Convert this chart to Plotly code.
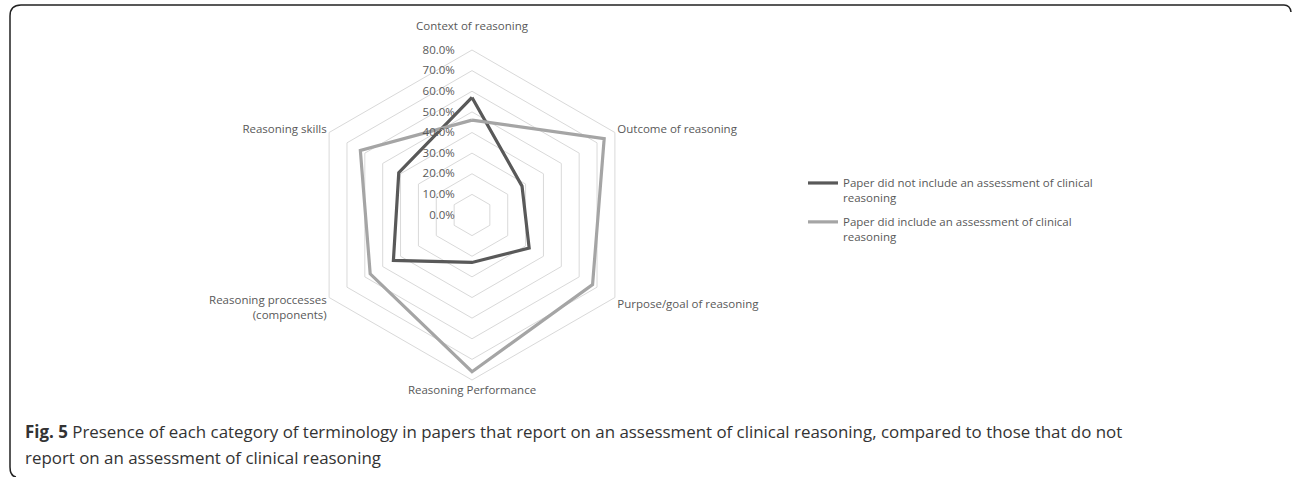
import plotly.graph_objects as go

categories = ["Context of reasoning", "Outcome of reasoning", "Purpose/goal of reasoning",
              "Reasoning Performance", "Reasoning proccesses<br>(components)", "Reasoning skills"]
not_included = [57.0, 28.0, 32.0, 23.0, 44.0, 41.0]
included = [46.0, 74.0, 67.5, 76.0, 57.0, 62.5]
series_names = ["Paper did not include an assessment of clinical<br>reasoning",
                "Paper did include an assessment of clinical<br>reasoning"]
tick_vals = [0, 10, 20, 30, 40, 50, 60, 70, 80]
tick_text = ["0.0%", "10.0%", "20.0%", "30.0%", "40.0%", "50.0%", "60.0%", "70.0%", "80.0%"]

W, H = 1292, 477
FONT = "Open Sans"
GRAY = "#595959"
FS = 11.5
PAD = "\u00a0" * 5  # keeps radial tick labels clear of the axis

# the top category label sits a line higher, clear of the 80.0% tick label
angular_text = list(categories)
angular_text[0] = categories[0] + "<br>\u00a0"

fig = go.Figure()
for i, (vals, name, color) in enumerate([(not_included, series_names[0], "#595959"),
                                         (included, series_names[1], "#a5a5a5")]):
    fig.add_trace(go.Scatterpolar(
        r=vals + [vals[0]], theta=categories + [categories[0]],
        mode="lines", name=name, legendgroup=f"g{i}",
        line=dict(color=color, width=3.2),
    ))

cx, cy, R = 472, 215, 165
fig.update_layout(
    width=W, height=H,
    margin=dict(l=0, r=0, t=0, b=0),
    paper_bgcolor="white",
    font=dict(family=FONT, size=FS, color=GRAY),
    polar=dict(
        domain=dict(x=[(cx - R) / W, (cx + R) / W], y=[1 - (cy + R) / H, 1 - (cy - R) / H]),
        gridshape="linear",
        bgcolor="white",
        angularaxis=dict(rotation=90, direction="clockwise", showgrid=False,
                         linecolor="#d9d9d9", linewidth=1, ticks="",
                         tickmode="array", tickvals=categories, ticktext=angular_text,
                         tickfont=dict(family=FONT, size=FS, color=GRAY)),
        radialaxis=dict(range=[0, 80], tickvals=tick_vals,
                        ticktext=[t + PAD for t in tick_text],
                        angle=90, tickangle=90, showline=False, ticks="",
                        gridcolor="#d9d9d9", gridwidth=1,
                        side="counterclockwise",
                        tickfont=dict(family=FONT, size=FS, color=GRAY)),
    ),
    legend=dict(x=803 / W, y=1 - 169 / H, xanchor="left", yanchor="top",
                valign="top", font=dict(family=FONT, size=FS, color=GRAY),
                bgcolor="rgba(0,0,0,0)", tracegroupgap=6),
)

# caption (two lines)
cap_font = dict(family=FONT, size=16.9, color="#333333")
fig.add_annotation(
    x=23 / W, y=1 - 431 / H, xref="paper", yref="paper", xanchor="left", yanchor="middle",
    align="left", showarrow=False,
    text="<b>Fig. 5</b> Presence of each category of terminology in papers that report on an assessment of clinical reasoning, compared to those that do not",
    font=cap_font,
)
fig.add_annotation(
    x=23 / W, y=1 - 457 / H, xref="paper", yref="paper", xanchor="left", yanchor="middle",
    align="left", showarrow=False,
    text="report on an assessment of clinical reasoning",
    font=cap_font,
)

# figure frame (rounded corners, partly outside the picture)
def px(x, y):
    return f"{x / W:.5f},{1 - y / H:.5f}"

path = (f"M {px(16, 477)} Q {px(10, 476)} {px(10, 467)} L {px(10, 16)} "
        f"Q {px(10, 5)} {px(21, 5)} L {px(1284, 5)} Q {px(1290, 5)} {px(1291, 12)}")
fig.add_shape(type="path", path=path, xref="paper", yref="paper",
              line=dict(color="#222222", width=1.5))

fig.write_html("out.html", config={"displayModeBar": False},
               post_script="document.body.style.margin='0';document.body.style.overflow='hidden';")
